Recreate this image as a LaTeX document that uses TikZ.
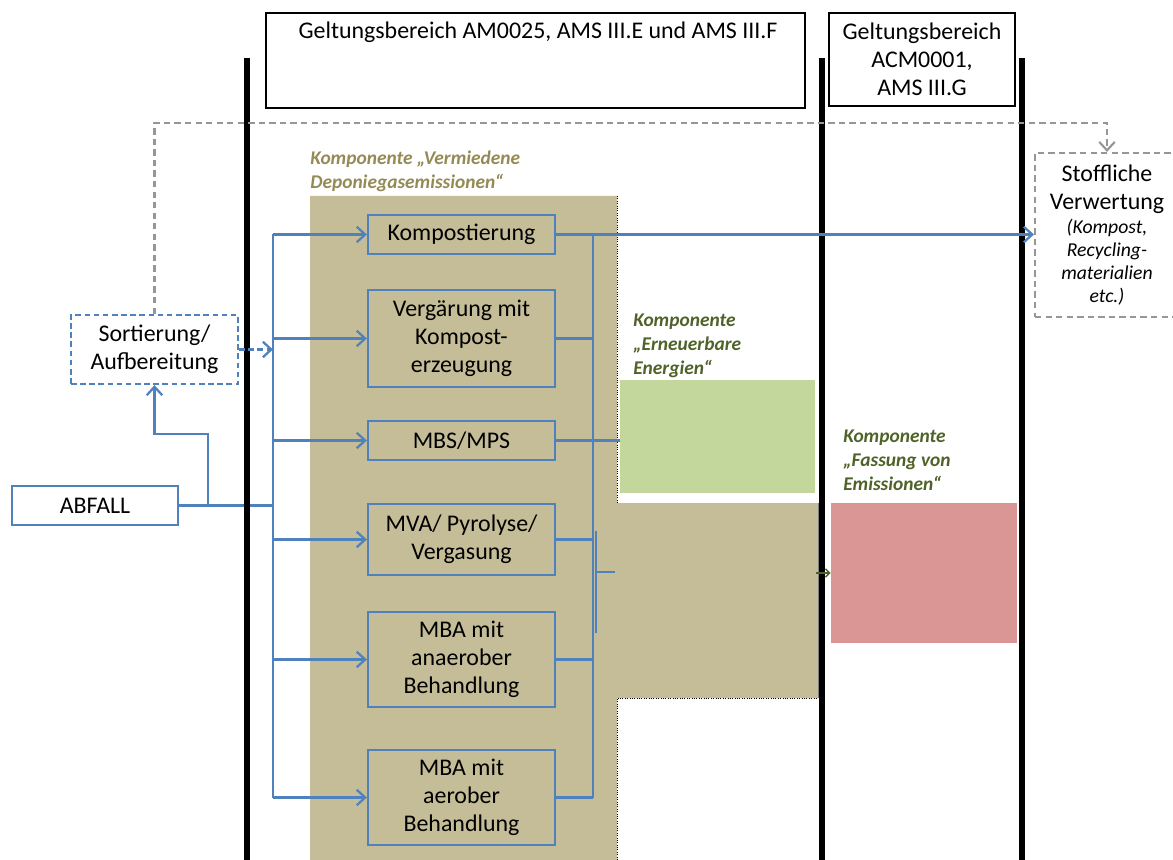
\documentclass[tikz,border=0pt]{standalone}
\usepackage{fontspec}
\setmainfont{Carlito}
\usetikzlibrary{
    positioning,
    arrows.meta,
    calc
}
\definecolor{flowBlue}{RGB}{79, 129, 189}
\definecolor{tanFill}{RGB}{196, 189, 151}
\definecolor{oliveText}{RGB}{148, 138, 84}
\definecolor{greenText}{RGB}{79, 98, 40}
\definecolor{greenFill}{RGB}{195, 214, 155}
\definecolor{redFill}{RGB}{217, 150, 148}
\definecolor{dashGray}{RGB}{150, 150, 150}

\newcommand{\mainSize}{\fontsize{17}{20}\selectfont}
\newcommand{\itSmall}{\fontsize{14}{16.5}\selectfont\itshape}

\tikzset{
    mainFont/.style={font=\mainSize},
    procBox/.style={draw=flowBlue, line width=1.6pt, minimum width=4.675cm,
        align=center, inner sep=2pt, font=\mainSize},
    hdrBox/.style={draw=black, line width=1.4pt, fill=white, inner sep=2pt,
        font=\mainSize},
    lblText/.style={align=left, inner sep=0pt,
        font=\fontsize{13.8}{17}\selectfont\bfseries\itshape},
    flow/.style={flowBlue, line width=1.6pt},
    blueDash/.style={dash pattern=on 4pt off 2.5pt},
    grayDash/.style={dashGray, line width=1.5pt, dash pattern=on 4.5pt off 3pt},
    sepLine/.style={black, line width=4.3pt}
}

\begin{document}
\begin{tikzpicture}[x=0.025cm, y=-0.025cm, >={Straight Barb[length=6pt, width=11pt]}]
    \useasboundingbox (0,0) rectangle (1173,860);

    % component areas
    \fill[tanFill] (310,196) -- (617,196) -- (617,503) -- (818,503) -- (818,698)
        -- (617,698) -- (617,860) -- (310,860) -- cycle;
    \draw[densely dotted, line width=0.7pt] (617,196) -- (617,503);
    \draw[densely dotted, line width=0.7pt] (617,860) -- (617,698) -- (818,698);
    \draw[gray, line width=0.6pt] (818,503) -- (818,698);

    \node (Ern) [fill=greenFill, minimum width=4.875cm, minimum height=2.825cm,
        inner sep=0pt] at (717.5,436.5) {};
    \node (Fass) [fill=redFill, minimum width=4.65cm, minimum height=3.5cm,
        inner sep=0pt] at (924,573) {};

    \node (LblVerm) [lblText, text=oliveText, anchor=north west] at (310,151)
        {Komponente „Vermiedene\\Deponiegasemissionen“};
    \node (LblErn) [lblText, text=greenText, anchor=north west] at (633,314)
        {Komponente\\„Erneuerbare\\Energien“};
    \node (LblFass) [lblText, text=greenText, anchor=north west] at (843,430)
        {Komponente\\„Fassung von\\Emissionen“};

    % headers
    \node (HdrA) [hdrBox, minimum width=13.475cm, minimum height=2.375cm] at (535.5,60.5) {};
    \node (HdrAText) [mainFont, anchor=base] at (538,39)
        {Geltungsbereich AM0025, AMS III.E und AMS III.F};
    \node (HdrB) [hdrBox, align=center, minimum width=4.65cm, minimum height=2.325cm]
        at (922,59.5) {Geltungsbereich\\ACM0001,\\AMS III.G};

    % boxes
    \node (Abfall) [procBox, minimum width=4.15cm, minimum height=0.975cm] at (95,505.5) {ABFALL};
    \node (Sort) [procBox, blueDash, minimum width=4.175cm, minimum height=1.725cm]
        at (154.5,349.5) {Sortierung/\\Aufbereitung};
    \node (Stoff) [draw=dashGray, line width=1.5pt, dash pattern=on 4.5pt off 3pt,
        align=center, minimum width=3.6cm, minimum height=4.1cm, font=\mainSize]
        at (1107,235) {Stoffliche\\Verwertung\\[-3pt]{\itSmall (Kompost,}\\[-4pt]
        {\itSmall Recycling-}\\[-3pt]{\itSmall materialien}\\[-4pt]{\itSmall etc.)}};

    \node (Komp) [procBox, minimum height=0.975cm] at (461.5,234.5) {Kompostierung};
    \node (Verg) [procBox, minimum height=2.425cm] at (461.5,338.5)
        {Vergärung mit\\Kompost-\\erzeugung};
    \node (Mbs) [procBox, minimum height=0.975cm] at (461.5,440.5) {MBS/MPS};
    \node (Mva) [procBox, minimum height=1.775cm] at (461.5,539.5)
        {MVA/ Pyrolyse/\\Vergasung};
    \node (MbaAn) [procBox, minimum height=2.375cm] at (461.5,659.5)
        {MBA mit\\anaerober\\Behandlung};
    \node (MbaAe) [procBox, minimum height=2.375cm] at (461.5,797.5)
        {MBA mit\\aerober\\Behandlung};

    \coordinate (busL) at (273,0);
    \coordinate (busR) at (593,0);
    \coordinate (sortTap) at (208,505.5);
    \coordinate (sortBend) at (208,434);
    \coordinate (sumTop) at (596,531);
    \coordinate (sumBot) at (596,633);
    \coordinate (sumOut) at (615,572);
    \coordinate (tanEdge) at (816,573);

    % input side
    \draw[flow, line width=2.6pt] (Abfall.east) -- (Abfall.east -| busL);
    \draw[flow, ->] (sortTap) -- (sortBend) -| (Sort.south);

    % dividers
    \draw[sepLine] (247,58) -- (247,860);
    \draw[sepLine] (822,58) -- (822,860);
    \draw[sepLine] (1022,58) -- (1022,860);

    \draw[grayDash, ->] (Sort.north) -- ++(0,-191) -| (Stoff.north);
    \draw[flow, blueDash, ->] (Sort.east) -- (Sort.east -| busL);

    \draw[flow] (Komp.west -| busL) -- (MbaAe.west -| busL);
    \foreach \n in {Komp, Verg, Mbs, Mva, MbaAn, MbaAe}
        \draw[flow, ->] (\n.west -| busL) -- (\n.west);

    % output side
    \draw[flow] (Komp.east -| busR) -- (MbaAe.east -| busR);
    \foreach \n in {Verg, Mbs, Mva, MbaAn, MbaAe}
        \draw[flow] (\n.east) -- (\n.east -| busR);
    \draw[flow, ->] (Komp.east) -- (Komp.east -| Stoff.west);
    \draw[flow] (Mbs.east) -- (Mbs.east -| Ern.west);
    \draw[flow] (sumTop) -- (sumBot);
    \draw[flow] (sumTop |- sumOut) -- (sumOut);
    \draw[greenText, line width=1pt, ->, >={Straight Barb[length=3pt, width=6pt]}]
        (tanEdge) -- (Fass.west);
\end{tikzpicture}
\end{document}
